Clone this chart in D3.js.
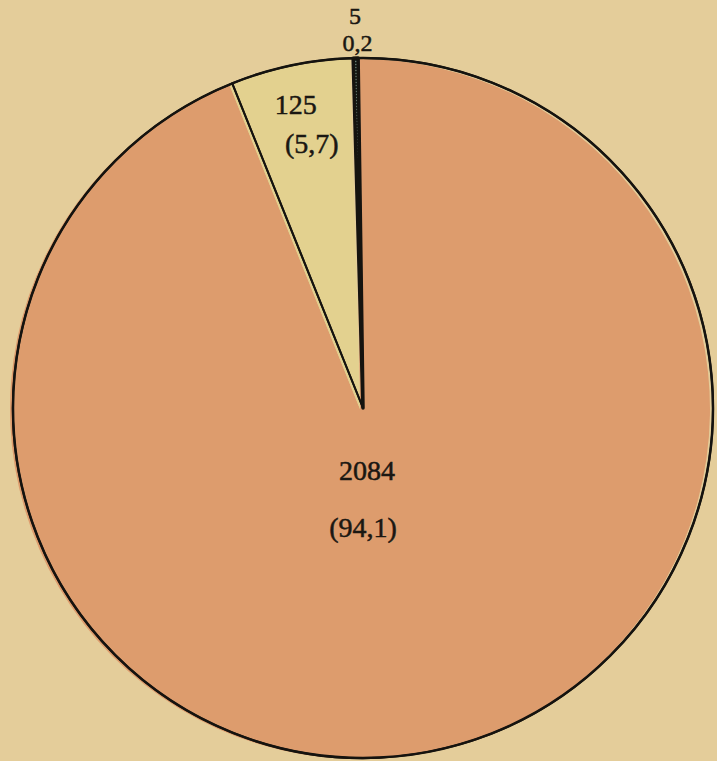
<!DOCTYPE html>
<html>
<head>
<meta charset="utf-8">
<script src="https://cdn.jsdelivr.net/npm/d3@7"></script>
<style>
  html, body { margin: 0; padding: 0; background: #e4cd9a; }
  svg { display: block; }
</style>
</head>
<body>
<svg id="chart" width="717" height="761"></svg>
<script>
// values read from the plate
var categories = ["large", "middle", "small"];
var counts = [2084, 125, 5];
var shares = ["94,1", "5,7", "0,2"];
var fills = ["#dd9c6d", "#e3d18f", "url(#hatch)"];

var width = 717, height = 761;
var cx = 363, cy = 408, radius = 350;

var svg = d3.select("#chart");

/* paper background */
svg.append("rect")
    .attr("width", width)
    .attr("height", height)
    .attr("fill", "#e4cd9a");

var defs = svg.append("defs");
var hatch = defs.append("pattern")
    .attr("id", "hatch")
    .attr("patternUnits", "userSpaceOnUse")
    .attr("width", 4)
    .attr("height", 3);
hatch.append("rect").attr("width", 4).attr("height", 3).attr("fill", "#1d2b24");
hatch.append("rect").attr("y", 1).attr("width", 4).attr("height", 1).attr("fill", "#6f7f74");

var slices = categories.map(function(c, i) {
    return { name: c, count: counts[i], share: shares[i], fill: fills[i] };
});

// the small slices sit just left of twelve o'clock
var offset = -0.8 * Math.PI / 180;
var pie = d3.pie()
    .sort(null)
    .value(function(d) { return d.count; })
    .startAngle(offset)
    .endAngle(offset + 2 * Math.PI);

var arcs = pie(slices);
var arc = d3.arc().innerRadius(0).outerRadius(radius);

/* colour plate printed slightly out of register */
svg.append("g")
    .attr("transform", "translate(" + (cx - 3) + "," + (cy + 1) + ")")
    .selectAll("path")
    .data(arcs)
    .enter()
    .append("path")
    .attr("d", arc)
    .attr("fill", function(d) { return d.data.count < 20 ? "none" : d.data.fill; });

var lines = svg.append("g")
    .attr("transform", "translate(" + cx + "," + cy + ")");

lines.selectAll("path")
    .data(arcs)
    .enter()
    .append("path")
    .attr("d", arc)
    .attr("fill", function(d) { return d.data.count < 20 ? d.data.fill : "none"; })
    .attr("stroke", "#15130f")
    .attr("stroke-width", function(d) { return d.data.count < 20 ? 3.5 : 2; })
    .attr("stroke-linejoin", "round");

lines.append("circle")
    .attr("r", radius)
    .attr("fill", "none")
    .attr("stroke", "#15130f")
    .attr("stroke-width", 2.5);

/* labels */
var labels = svg.append("g")
    .attr("transform", "translate(" + cx + "," + cy + ")")
    .attr("font-family", "'Liberation Serif', 'DejaVu Serif', serif")
    .attr("font-size", 28)
    .attr("fill", "#1a1712")
    .attr("stroke", "#1a1712")
    .attr("stroke-width", 0.5)
    .attr("text-anchor", "middle");

function pointAt(angle, r) {
    return [Math.sin(angle) * r, -Math.cos(angle) * r];
}

arcs.forEach(function(d) {
    var mid = (d.startAngle + d.endAngle) / 2;
    var share = d.endAngle - d.startAngle;
    var top, bottom, dx = 0, size = 28;
    if (share < 0.05) {
        // sliver: numbers stacked outside the rim
        top = pointAt(mid, radius + 34);
        bottom = pointAt(mid, radius + 7);
        size = 24;
    } else if (share < 1) {
        top = pointAt(mid, 300);
        bottom = pointAt(mid, 261);
        dx = -6;
    } else {
        top = pointAt(Math.PI, 72);
        bottom = pointAt(Math.PI, 129);
        dx = 4;
    }
    labels.append("text")
        .attr("x", top[0] + dx)
        .attr("y", top[1])
        .attr("font-size", size)
        .text(d3.format("d")(d.data.count));
    labels.append("text")
        .attr("x", bottom[0] + (dx > 0 ? 0 : 2))
        .attr("y", bottom[1])
        .attr("font-size", size)
        .text(share < 0.05 ? d.data.share : "(" + d.data.share + ")");
});
</script>
</body>
</html>
